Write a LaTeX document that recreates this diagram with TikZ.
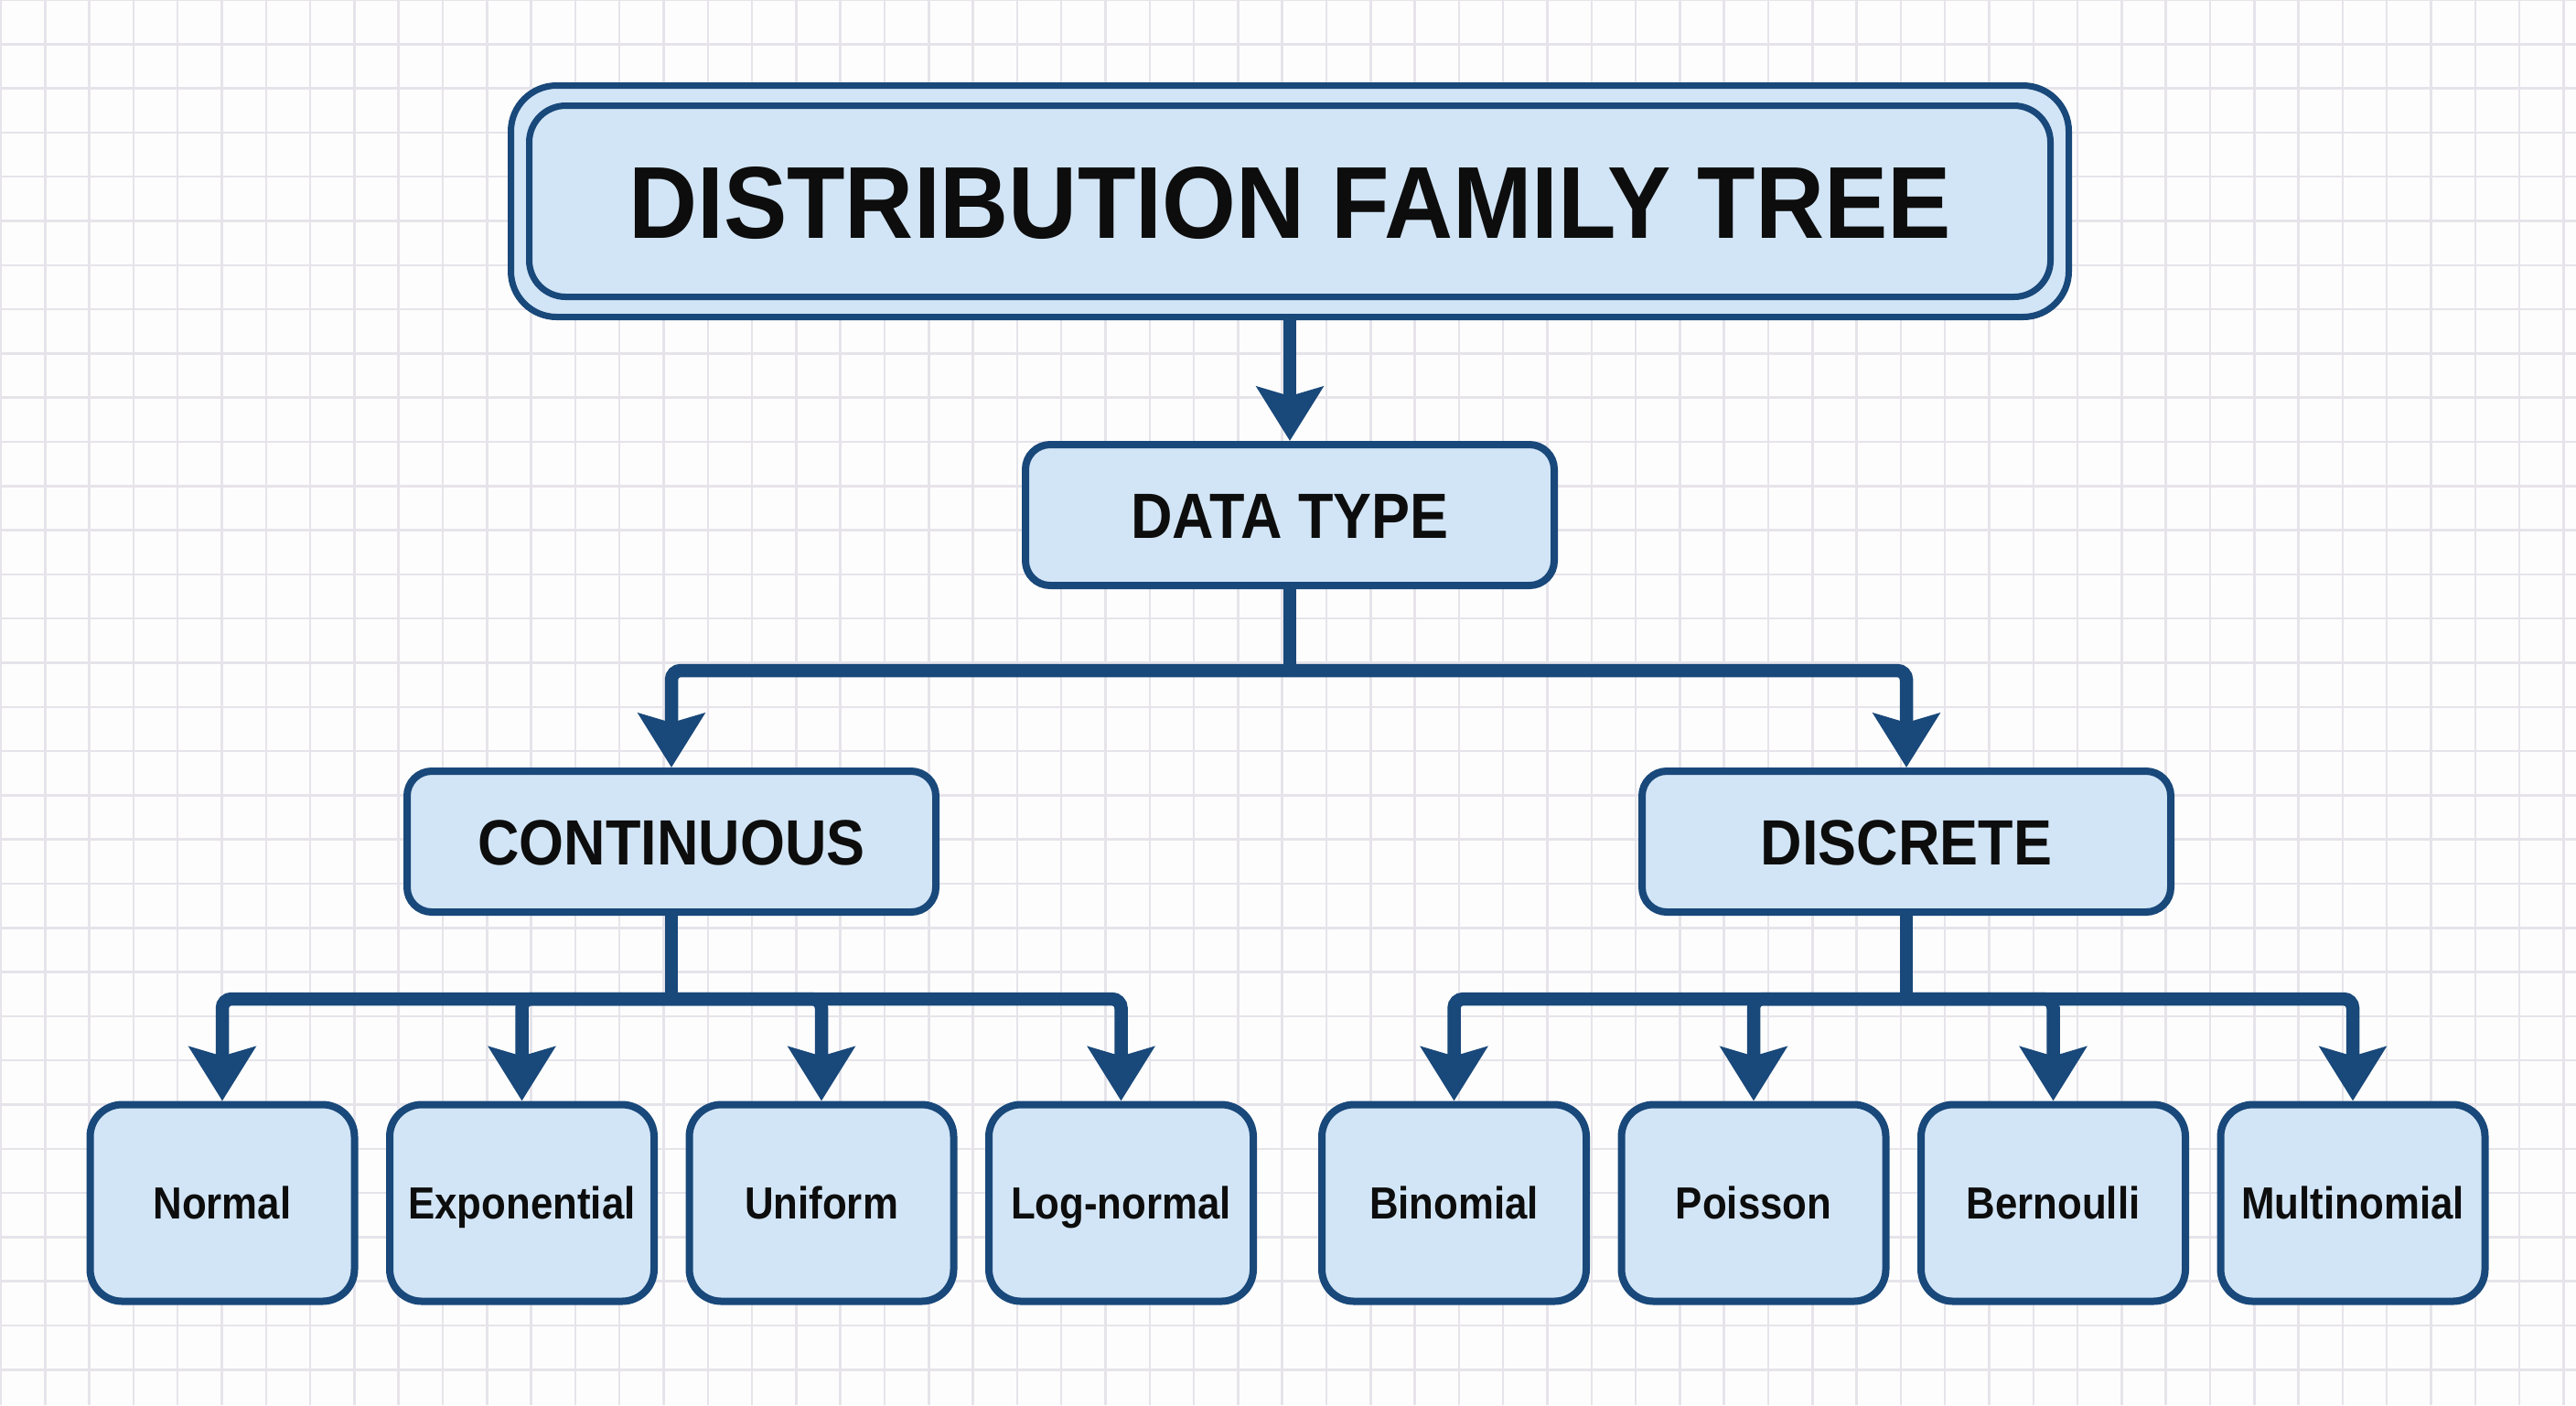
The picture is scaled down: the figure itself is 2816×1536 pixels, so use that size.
\documentclass[tikz,border=0pt]{standalone}
\usepackage{fontspec}
\setmainfont{Liberation Sans}
\usepackage{graphicx}
\usetikzlibrary{arrows.meta}
\definecolor{navy}{HTML}{19487A}
\definecolor{boxfill}{HTML}{D2E5F6}
\definecolor{gridc}{HTML}{E6E4EA}
\definecolor{bgc}{HTML}{FDFDFD}
\newcommand\cnd[2][0.9]{\scalebox{#1}[1]{#2}}
\begin{document}
\begin{tikzpicture}[x=0.1mm,y=-0.1mm,
  nodebox/.style={draw=navy, fill=boxfill, line width=0.8mm, rounded corners=#1, inner sep=0pt, text=black!95},
  nodebox/.default=2.7mm,
  midbox/.style={nodebox=2.7mm, minimum width=57.8mm, minimum height=15.4mm, text height=14.3pt, text depth=0pt, font=\fontsize{19.9}{24}\selectfont\bfseries},
  leafbox/.style={nodebox=3.5mm, minimum width=28.9mm, minimum height=21.5mm, text height=10pt, text depth=0pt, font=\fontsize{14}{16}\selectfont\bfseries},
  conn/.style={draw=navy, line width=1.45mm, rounded corners=1mm},
  arr/.style={conn, -{Stealth[length=5.9mm,width=7.2mm,inset=1mm]}},
  gridline/.style={draw=gridc, line width=0.25mm}]
\fill[bgc] (0,0) rectangle (2816,1536);
\useasboundingbox (0,0) rectangle (2816,1536);
\foreach \i in {0,...,58} \draw[gridline] ({1+\i*48.3},0) -- ({1+\i*48.3},1536);
\foreach \j in {0,...,31} \draw[gridline] (0,{\j*48.3}) -- (2816,{\j*48.3});

% title
\node[nodebox=5mm, minimum width=170.3mm, minimum height=25.3mm, line width=0.7mm] (titleout) at (1410,220) {};
\node[nodebox=4mm, minimum width=166.3mm, minimum height=20.9mm, line width=0.7mm,
  text height=22.8pt, text depth=0pt,
  font=\fontsize{31.8}{36}\selectfont\bfseries] (title) at (1410,220) {\cnd[0.93]{DISTRIBUTION FAMILY TREE}};

% level 2
\node[midbox] (dt) at (1410,563) {\cnd{DATA TYPE}};
\node[midbox] (cont) at (734,920) {\cnd{CONTINUOUS}};
\node[midbox] (disc) at (2084,920) {\cnd{DISCRETE}};

% leaves
\node[leafbox] (l1) at (243,1315) {\cnd[0.89]{Normal}};
\node[leafbox] (l2) at (570.5,1315) {\cnd[0.89]{Exponential}};
\node[leafbox] (l3) at (898,1315) {\cnd[0.89]{Uniform}};
\node[leafbox] (l4) at (1225.5,1315) {\cnd[0.89]{Log-normal}};
\node[leafbox] (l5) at (1589.5,1315) {\cnd[0.89]{Binomial}};
\node[leafbox] (l6) at (1917,1315) {\cnd[0.89]{Poisson}};
\node[leafbox] (l7) at (2244.5,1315) {\cnd[0.89]{Bernoulli}};
\node[leafbox] (l8) at (2572,1315) {\cnd[0.89]{Multinomial}};

% junctions
\coordinate (j1) at (1410,733);
\coordinate (j2) at (734,1092);
\coordinate (j3) at (2084,1092);

% connectors
\draw[arr] (titleout.south) -- (dt.north);
\draw[conn] (dt.south) -- (j1);
\draw[arr] (j1) -| (cont.north);
\draw[arr] (j1) -| (disc.north);
\draw[conn] (cont.south) -- (j2);
\draw[conn] (disc.south) -- (j3);
\foreach \n in {l1,l2,l3,l4} \draw[arr] (j2) -| (\n.north);
\foreach \n in {l5,l6,l7,l8} \draw[arr] (j3) -| (\n.north);
\end{tikzpicture}
\end{document}
